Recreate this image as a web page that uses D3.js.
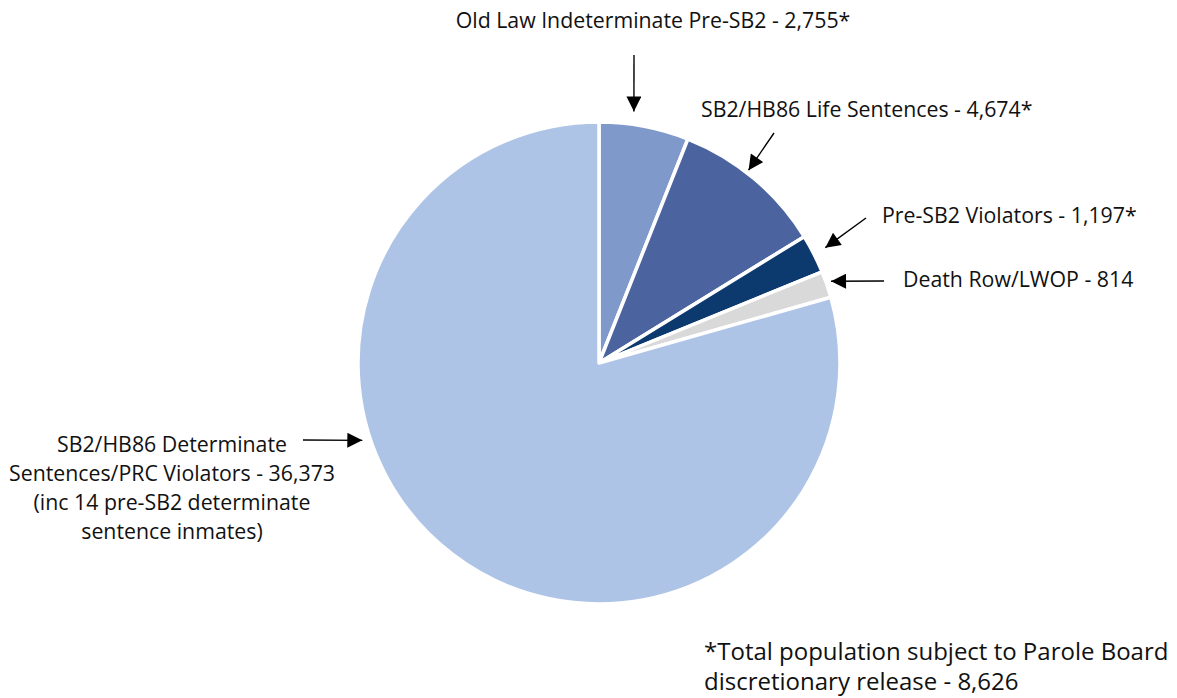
<!DOCTYPE html>
<html>
<head>
<meta charset="utf-8">
<script src="https://cdn.jsdelivr.net/npm/d3@7"></script>
<style>
  html, body { margin: 0; padding: 0; background: #fff; }
  svg { display: block; font-family: "Open Sans", "Noto Sans", sans-serif; }
</style>
</head>
<body>
<svg id="chart" width="1177" height="698"></svg>
<script>
// ---- data ----
const categories = [
  "Old Law Indeterminate Pre-SB2",
  "SB2/HB86 Life Sentences",
  "Pre-SB2 Violators",
  "Death Row/LWOP",
  "SB2/HB86 Determinate Sentences/PRC Violators"
];
const values = [2755, 4674, 1197, 814, 36373];
const colors = ["#8099CB", "#4B64A0", "#0D3A6E", "#D9D9D9", "#AEC4E6"];
const labelLines = [
  ["Old Law Indeterminate Pre-SB2 - 2,755*"],
  ["SB2/HB86 Life Sentences - 4,674*"],
  ["Pre-SB2 Violators - 1,197*"],
  ["Death Row/LWOP - 814"],
  ["SB2/HB86 Determinate", "Sentences/PRC Violators - 36,373", "(inc 14 pre-SB2 determinate", "sentence inmates)"]
];
const footnote = ["*Total population subject to Parole Board", "discretionary release - 8,626"];

// ---- layout ----
const cx = 599, cy = 363, R = 241;
// annotation layout: label anchor & arrow (tail point, tip angle in degrees, tip radius)
const annot = [
  { tx: 653, ty: 28,  anchor: "middle", tail: [634, 55],  tipAngle: 7.9,   tipR: 254 },
  { tx: 701, ty: 117, anchor: "start",  tail: [774, 133], tipAngle: 37.8,  tipR: 244 },
  { tx: 882, ty: 223, anchor: "start",  tail: [866, 218], tipAngle: 63.0,  tipR: 254 },
  { tx: 903, ty: 287, anchor: "start",  tail: [884, 281], tipAngle: 70.6,  tipR: 246 },
  { tx: 172, ty: 452, anchor: "middle", tail: [303, 440], tipAngle: 251.9, tipR: 249 }
];

const svg = d3.select("#chart");

svg.append("defs").append("marker")
  .attr("id", "arrow")
  .attr("viewBox", "0 0 10 10")
  .attr("refX", 10).attr("refY", 5)
  .attr("markerUnits", "userSpaceOnUse")
  .attr("markerWidth", 16).attr("markerHeight", 15)
  .attr("orient", "auto")
  .append("path").attr("d", "M0,0 L10,5 L0,10 Z").attr("fill", "#000");

const pie = d3.pie().sort(null).value(d => d)(values);
const arc = d3.arc().innerRadius(0).outerRadius(R);

const g = svg.append("g").attr("transform", `translate(${cx},${cy})`);
g.selectAll("path.slice")
  .data(pie)
  .join("path")
  .attr("class", "slice")
  .attr("d", arc)
  .attr("fill", (d, i) => colors[i])
  .attr("stroke", "#fff")
  .attr("stroke-width", 3.5)
  .attr("stroke-linejoin", "round");

// arrows
annot.forEach((a, i) => {
  const ang = a.tipAngle * Math.PI / 180;
  const tip = [cx + a.tipR * Math.sin(ang), cy - a.tipR * Math.cos(ang)];
  svg.append("line")
    .attr("x1", a.tail[0]).attr("y1", a.tail[1])
    .attr("x2", tip[0]).attr("y2", tip[1])
    .attr("stroke", "#000").attr("stroke-width", 1.4)
    .attr("marker-end", "url(#arrow)");
});

// labels
annot.forEach((a, i) => {
  const t = svg.append("text")
    .attr("x", a.tx).attr("y", a.ty)
    .attr("text-anchor", a.anchor)
    .attr("font-size", 21.3)
    .attr("fill", "#111");
  labelLines[i].forEach((line, k) => {
    t.append("tspan").attr("x", a.tx).attr("y", a.ty + k * 29).text(line);
  });
});

// footnote
const f = svg.append("text").attr("font-size", 24).attr("fill", "#111");
footnote.forEach((line, k) => {
  f.append("tspan").attr("x", 704).attr("y", 660 + k * 30).text(line);
});
</script>
</body>
</html>
